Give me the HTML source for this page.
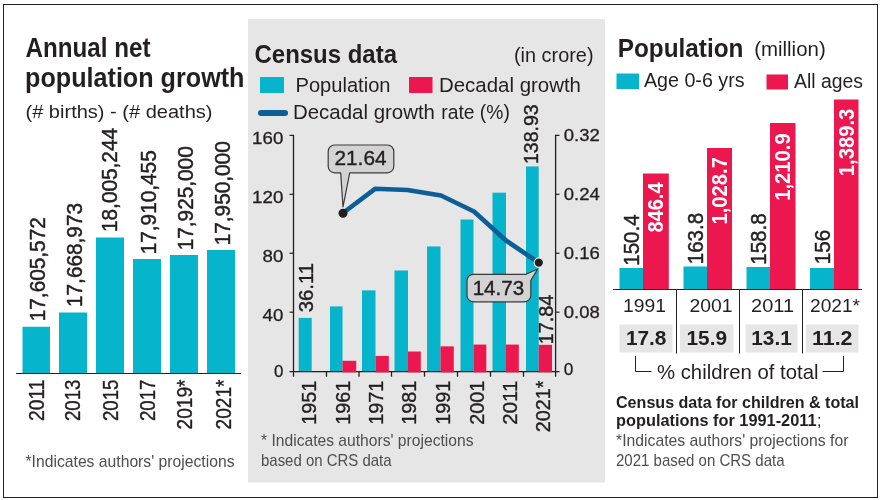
<!DOCTYPE html>
<html lang="en">
<head>
<meta charset="utf-8">
<title>Population charts</title>
<style>
html,body{margin:0;padding:0;background:#fff;}
body{width:880px;height:500px;overflow:hidden;}
svg{display:block;font-family:"Liberation Sans","DejaVu Sans",sans-serif;fill:#231f20;}
</style>
</head>
<body>
<svg width="880" height="500" viewBox="0 0 880 500">
<rect x="0" y="0" width="880" height="500" fill="#ffffff"/>
<rect x="3.5" y="4.5" width="874" height="493" fill="#fff" stroke="#231f20" stroke-width="1"/>
<rect x="248" y="19" width="357" height="463.5" fill="#e6e6e6"/>
<text font-size="27.5" font-weight="bold" textLength="125" lengthAdjust="spacingAndGlyphs" x="25.5" y="57">Annual net</text>
<text font-size="27.5" font-weight="bold" textLength="219.5" lengthAdjust="spacingAndGlyphs" x="25" y="86.5">population growth</text>
<text font-size="19" textLength="187" lengthAdjust="spacingAndGlyphs" x="25.5" y="118.4">(# births) - (# deaths)</text>
<rect x="22.5" y="326.75" width="27.5" height="46.25" fill="#06b4cb"/>
<text font-size="21.5" textLength="104" lengthAdjust="spacingAndGlyphs" stroke="#231f20" stroke-width="0.45" transform="translate(44.95 321.25) rotate(-90)">17,605,572</text>
<text font-size="21.5" text-anchor="end" textLength="41.5" lengthAdjust="spacingAndGlyphs" stroke="#231f20" stroke-width="0.35" transform="translate(43.9 379.5) rotate(-90)">2011</text>
<rect x="59" y="312.5" width="28" height="60.5" fill="#06b4cb"/>
<text font-size="21.5" textLength="104" lengthAdjust="spacingAndGlyphs" stroke="#231f20" stroke-width="0.45" transform="translate(81.7 307.0) rotate(-90)">17,668,973</text>
<text font-size="21.5" text-anchor="end" textLength="41.5" lengthAdjust="spacingAndGlyphs" stroke="#231f20" stroke-width="0.35" transform="translate(80.4 379.5) rotate(-90)">2013</text>
<rect x="96" y="237.5" width="28" height="135.5" fill="#06b4cb"/>
<text font-size="21.5" textLength="104" lengthAdjust="spacingAndGlyphs" stroke="#231f20" stroke-width="0.45" transform="translate(117.2 232.0) rotate(-90)">18,005,244</text>
<text font-size="21.5" text-anchor="end" textLength="41.5" lengthAdjust="spacingAndGlyphs" stroke="#231f20" stroke-width="0.35" transform="translate(118.1 379.5) rotate(-90)">2015</text>
<rect x="133" y="259" width="28" height="114" fill="#06b4cb"/>
<text font-size="21.5" textLength="104" lengthAdjust="spacingAndGlyphs" stroke="#231f20" stroke-width="0.45" transform="translate(155.7 254.3) rotate(-90)">17,910,455</text>
<text font-size="21.5" text-anchor="end" textLength="41.5" lengthAdjust="spacingAndGlyphs" stroke="#231f20" stroke-width="0.35" transform="translate(154.9 379.5) rotate(-90)">2017</text>
<rect x="170" y="255" width="28" height="118" fill="#06b4cb"/>
<text font-size="21.5" textLength="104" lengthAdjust="spacingAndGlyphs" stroke="#231f20" stroke-width="0.45" transform="translate(192.7 250.3) rotate(-90)">17,925,000</text>
<text font-size="21.5" text-anchor="end" textLength="50" lengthAdjust="spacingAndGlyphs" stroke="#231f20" stroke-width="0.35" transform="translate(192.3 379.5) rotate(-90)">2019*</text>
<rect x="207" y="250" width="28" height="123" fill="#06b4cb"/>
<text font-size="21.5" textLength="104" lengthAdjust="spacingAndGlyphs" stroke="#231f20" stroke-width="0.45" transform="translate(229.7 245.3) rotate(-90)">17,950,000</text>
<text font-size="21.5" text-anchor="end" textLength="50" lengthAdjust="spacingAndGlyphs" stroke="#231f20" stroke-width="0.35" transform="translate(231.3 379.5) rotate(-90)">2021*</text>
<line x1="16" y1="373.5" x2="241" y2="373.5" stroke="#231f20" stroke-width="1"/>
<text font-size="17" textLength="209" lengthAdjust="spacingAndGlyphs" fill="#4e4e4e" x="25.5" y="466.7">*Indicates authors' projections</text>
<text font-size="25.5" font-weight="bold" textLength="142.5" lengthAdjust="spacingAndGlyphs" x="254.5" y="62.5">Census data</text>
<text font-size="19.5" textLength="79.5" lengthAdjust="spacingAndGlyphs" x="514" y="62">(in crore)</text>
<rect x="260" y="77" width="24" height="16" fill="#06b4cb"/>
<text font-size="20.5" textLength="95" lengthAdjust="spacingAndGlyphs" x="295.5" y="92">Population</text>
<rect x="409" y="77" width="23.5" height="16" fill="#ec174f"/>
<text font-size="20.5" textLength="142" lengthAdjust="spacingAndGlyphs" x="439" y="92">Decadal growth</text>
<line x1="261" y1="113" x2="285" y2="113" stroke="#0b5e96" stroke-width="6" stroke-linecap="round"/>
<text font-size="20.5" textLength="142" lengthAdjust="spacingAndGlyphs" x="293" y="118.5">Decadal growth</text>
<text font-size="20.5" textLength="68.5" lengthAdjust="spacingAndGlyphs" x="441.3" y="118.5">rate (%)</text>
<rect x="298.7" y="317.9" width="13.0" height="53.7" fill="#06b4cb"/>
<rect x="330" y="306.42" width="12.5" height="65.18" fill="#06b4cb"/>
<rect x="362" y="290.37" width="13.5" height="81.23" fill="#06b4cb"/>
<rect x="394.5" y="270.48" width="13.5" height="101.12" fill="#06b4cb"/>
<rect x="427" y="246.46" width="13.5" height="125.14" fill="#06b4cb"/>
<rect x="460.5" y="219.5" width="13.0" height="152.1" fill="#06b4cb"/>
<rect x="492.5" y="192.69" width="13.5" height="178.91" fill="#06b4cb"/>
<rect x="526" y="166.42" width="12.7" height="205.18" fill="#06b4cb"/>
<line x1="293.5" y1="134.8" x2="293.5" y2="376.7" stroke="#231f20" stroke-width="1.3"/>
<line x1="555.6" y1="134.8" x2="555.6" y2="376.7" stroke="#231f20" stroke-width="1.3"/>
<line x1="289.5" y1="371.6" x2="559.5" y2="371.6" stroke="#231f20" stroke-width="1.3"/>
<line x1="289.5" y1="135.38" x2="293.5" y2="135.38" stroke="#231f20" stroke-width="1.2"/>
<text font-size="17" text-anchor="end" textLength="31.2" lengthAdjust="spacingAndGlyphs" stroke="#231f20" stroke-width="0.3" x="283.3" y="143.98">160</text>
<line x1="289.5" y1="194.31" x2="293.5" y2="194.31" stroke="#231f20" stroke-width="1.2"/>
<text font-size="17" text-anchor="end" textLength="31.2" lengthAdjust="spacingAndGlyphs" stroke="#231f20" stroke-width="0.3" x="283.3" y="202.91">120</text>
<line x1="289.5" y1="253.24" x2="293.5" y2="253.24" stroke="#231f20" stroke-width="1.2"/>
<text font-size="17" text-anchor="end" textLength="20.8" lengthAdjust="spacingAndGlyphs" stroke="#231f20" stroke-width="0.3" x="283.3" y="261.84000000000003">80</text>
<line x1="289.5" y1="312.17" x2="293.5" y2="312.17" stroke="#231f20" stroke-width="1.2"/>
<text font-size="17" text-anchor="end" textLength="20.8" lengthAdjust="spacingAndGlyphs" stroke="#231f20" stroke-width="0.3" x="283.3" y="320.77000000000004">40</text>
<text font-size="17" text-anchor="end" textLength="9.4" lengthAdjust="spacingAndGlyphs" stroke="#231f20" stroke-width="0.3" x="283.3" y="377.4">0</text>
<line x1="555.5" y1="135.38" x2="559.5" y2="135.38" stroke="#231f20" stroke-width="1.2"/>
<text font-size="17" textLength="36" lengthAdjust="spacingAndGlyphs" stroke="#231f20" stroke-width="0.3" x="563.8" y="141.28">0.32</text>
<line x1="555.5" y1="194.31" x2="559.5" y2="194.31" stroke="#231f20" stroke-width="1.2"/>
<text font-size="17" textLength="36" lengthAdjust="spacingAndGlyphs" stroke="#231f20" stroke-width="0.3" x="563.8" y="200.21">0.24</text>
<line x1="555.5" y1="253.24" x2="559.5" y2="253.24" stroke="#231f20" stroke-width="1.2"/>
<text font-size="17" textLength="36" lengthAdjust="spacingAndGlyphs" stroke="#231f20" stroke-width="0.3" x="563.8" y="259.14">0.16</text>
<line x1="555.5" y1="312.17" x2="559.5" y2="312.17" stroke="#231f20" stroke-width="1.2"/>
<text font-size="17" textLength="36" lengthAdjust="spacingAndGlyphs" stroke="#231f20" stroke-width="0.3" x="563.8" y="318.07">0.08</text>
<text font-size="17" textLength="9.6" lengthAdjust="spacingAndGlyphs" stroke="#231f20" stroke-width="0.3" x="563.8" y="374.5">0</text>
<line x1="326.5" y1="371.6" x2="326.5" y2="376.7" stroke="#231f20" stroke-width="1.3"/>
<line x1="359" y1="371.6" x2="359" y2="376.7" stroke="#231f20" stroke-width="1.3"/>
<line x1="391.5" y1="371.6" x2="391.5" y2="376.7" stroke="#231f20" stroke-width="1.3"/>
<line x1="424.5" y1="371.6" x2="424.5" y2="376.7" stroke="#231f20" stroke-width="1.3"/>
<line x1="457.5" y1="371.6" x2="457.5" y2="376.7" stroke="#231f20" stroke-width="1.3"/>
<line x1="490.5" y1="371.6" x2="490.5" y2="376.7" stroke="#231f20" stroke-width="1.3"/>
<line x1="523.5" y1="371.6" x2="523.5" y2="376.7" stroke="#231f20" stroke-width="1.3"/>
<rect x="342.5" y="360.79" width="13.7" height="11.61" fill="#ec174f"/>
<rect x="375.5" y="355.93" width="13.3" height="16.47" fill="#ec174f"/>
<rect x="408" y="351.51" width="12.8" height="20.89" fill="#ec174f"/>
<rect x="440.5" y="346.35" width="13.3" height="26.05" fill="#ec174f"/>
<rect x="473.5" y="344.58" width="12.8" height="27.82" fill="#ec174f"/>
<rect x="506" y="344.58" width="12.8" height="27.82" fill="#ec174f"/>
<rect x="538.7" y="344.82" width="13.3" height="27.58" fill="#ec174f"/>
<polyline points="343,213 375,188.8 407.5,190 441,195.5 474,211.5 506,240.5 538.5,262.5" fill="none" stroke="#0b5e96" stroke-width="4.6" stroke-linejoin="round" stroke-linecap="round"/>
<path d="M334.6 145 H387.4 a6.4 6.4 0 0 1 6.4 6.4 V166.4 a6.4 6.4 0 0 1 -6.4 6.4 H349.7 L343 207 L340.7 172.8 H334.6 a6.4 6.4 0 0 1 -6.4 -6.4 V151.4 a6.4 6.4 0 0 1 6.4 -6.4 Z" fill="#d3d3d3" stroke="#3a3a3a" stroke-width="1.2" stroke-linejoin="round"/>
<text font-size="20.5" text-anchor="middle" textLength="52" lengthAdjust="spacingAndGlyphs" stroke="#231f20" stroke-width="0.4" x="360.5" y="165.4">21.64</text>
<circle cx="343" cy="213.3" r="4.5" fill="#231f20"/>
<path d="M473.4 274.3 H526 L537.6 269 L530.8 280.5 V295.4 a6.4 6.4 0 0 1 -6.4 6.4 H473.4 a6.4 6.4 0 0 1 -6.4 -6.4 V280.7 a6.4 6.4 0 0 1 6.4 -6.4 Z" fill="#d3d3d3" stroke="#3a3a3a" stroke-width="1.2" stroke-linejoin="round"/>
<text font-size="20.5" text-anchor="middle" textLength="51.5" lengthAdjust="spacingAndGlyphs" stroke="#231f20" stroke-width="0.4" x="498.4" y="294.7">14.73</text>
<circle cx="538.8" cy="262.6" r="4.7" fill="#231f20" stroke="#f2f2f2" stroke-width="1.1"/>
<text font-size="20.5" textLength="49.3" lengthAdjust="spacingAndGlyphs" stroke="#231f20" stroke-width="0.4" transform="translate(313 312.3) rotate(-90)">36.11</text>
<text font-size="20.5" textLength="59.7" lengthAdjust="spacingAndGlyphs" stroke="#231f20" stroke-width="0.4" transform="translate(538 164) rotate(-90)">138.93</text>
<text font-size="20.5" textLength="49.7" lengthAdjust="spacingAndGlyphs" stroke="#231f20" stroke-width="0.4" transform="translate(552.5 344.3) rotate(-90)">17.84</text>
<text font-size="20.4" text-anchor="end" textLength="44" lengthAdjust="spacingAndGlyphs" stroke="#231f20" stroke-width="0.35" transform="translate(315.8 380.7) rotate(-90)">1951</text>
<text font-size="20.4" text-anchor="end" textLength="44" lengthAdjust="spacingAndGlyphs" stroke="#231f20" stroke-width="0.35" transform="translate(349.8 380.7) rotate(-90)">1961</text>
<text font-size="20.4" text-anchor="end" textLength="44" lengthAdjust="spacingAndGlyphs" stroke="#231f20" stroke-width="0.35" transform="translate(382.8 380.7) rotate(-90)">1971</text>
<text font-size="20.4" text-anchor="end" textLength="44" lengthAdjust="spacingAndGlyphs" stroke="#231f20" stroke-width="0.35" transform="translate(416.3 380.7) rotate(-90)">1981</text>
<text font-size="20.4" text-anchor="end" textLength="44" lengthAdjust="spacingAndGlyphs" stroke="#231f20" stroke-width="0.35" transform="translate(449.8 380.7) rotate(-90)">1991</text>
<text font-size="20.4" text-anchor="end" textLength="44" lengthAdjust="spacingAndGlyphs" stroke="#231f20" stroke-width="0.35" transform="translate(483.8 380.7) rotate(-90)">2001</text>
<text font-size="20.4" text-anchor="end" textLength="44" lengthAdjust="spacingAndGlyphs" stroke="#231f20" stroke-width="0.35" transform="translate(516.5 380.7) rotate(-90)">2011</text>
<text font-size="20.4" text-anchor="end" textLength="51.5" lengthAdjust="spacingAndGlyphs" stroke="#231f20" stroke-width="0.35" transform="translate(550 380.7) rotate(-90)">2021*</text>
<text font-size="17" textLength="212.5" lengthAdjust="spacingAndGlyphs" fill="#4e4e4e" x="261" y="446.2">* Indicates authors' projections</text>
<text font-size="17" textLength="130.5" lengthAdjust="spacingAndGlyphs" fill="#4e4e4e" x="261" y="465.7">based on CRS data</text>
<text font-size="26.5" font-weight="bold" textLength="125.7" lengthAdjust="spacingAndGlyphs" x="617.7" y="56.5">Population</text>
<text font-size="20" textLength="71.5" lengthAdjust="spacingAndGlyphs" x="754.2" y="56.2">(million)</text>
<rect x="616.5" y="73.5" width="22.5" height="15.5" fill="#06b4cb"/>
<text font-size="20" textLength="100.5" lengthAdjust="spacingAndGlyphs" x="644" y="86.9">Age 0-6 yrs</text>
<rect x="766.5" y="74.5" width="21.5" height="15.0" fill="#ec174f"/>
<text font-size="19.5" textLength="69" lengthAdjust="spacingAndGlyphs" x="794" y="87.6">All ages</text>
<rect x="619.5" y="268" width="23.5" height="21" fill="#06b4cb"/>
<rect x="643" y="173.5" width="25.8" height="115.5" fill="#ec174f"/>
<text font-size="21.5" textLength="51.3" lengthAdjust="spacingAndGlyphs" stroke="#231f20" stroke-width="0.45" transform="translate(639.35 265.7) rotate(-90)">150.4</text>
<text font-size="22" font-weight="bold" text-anchor="end" textLength="50" lengthAdjust="spacingAndGlyphs" fill="#fff" transform="translate(663.4 182.5) rotate(-90)">846.4</text>
<rect x="619.5" y="324.5" width="53.0" height="28.0" fill="#e6e6e6"/>
<text font-size="19.5" font-weight="bold" text-anchor="middle" textLength="40.5" lengthAdjust="spacingAndGlyphs" x="646.2" y="344.6">17.8</text>
<text font-size="17.5" text-anchor="middle" textLength="43" lengthAdjust="spacingAndGlyphs" x="644.4" y="311.8">1991</text>
<rect x="683.5" y="266.5" width="23.5" height="22.5" fill="#06b4cb"/>
<rect x="707" y="148" width="25" height="141" fill="#ec174f"/>
<text font-size="21.5" textLength="51.3" lengthAdjust="spacingAndGlyphs" stroke="#231f20" stroke-width="0.45" transform="translate(703.35 264.2) rotate(-90)">163.8</text>
<text font-size="22" font-weight="bold" text-anchor="end" textLength="67.5" lengthAdjust="spacingAndGlyphs" fill="#fff" transform="translate(727.0 157) rotate(-90)">1,028.7</text>
<rect x="680" y="324.5" width="53.5" height="28.0" fill="#e6e6e6"/>
<text font-size="19.5" font-weight="bold" text-anchor="middle" textLength="40.5" lengthAdjust="spacingAndGlyphs" x="706.75" y="344.6">15.9</text>
<text font-size="17.5" text-anchor="middle" textLength="43" lengthAdjust="spacingAndGlyphs" x="711.1" y="311.8">2001</text>
<rect x="746.5" y="267" width="23.5" height="22" fill="#06b4cb"/>
<rect x="770" y="123" width="25.5" height="166" fill="#ec174f"/>
<text font-size="21.5" textLength="51.3" lengthAdjust="spacingAndGlyphs" stroke="#231f20" stroke-width="0.45" transform="translate(766.35 264.7) rotate(-90)">158.8</text>
<text font-size="22" font-weight="bold" text-anchor="end" textLength="67.5" lengthAdjust="spacingAndGlyphs" fill="#fff" transform="translate(790.25 133.3) rotate(-90)">1,210.9</text>
<rect x="745.5" y="324.5" width="52.0" height="28.0" fill="#e6e6e6"/>
<text font-size="19.5" font-weight="bold" text-anchor="middle" textLength="40.5" lengthAdjust="spacingAndGlyphs" x="771.5" y="344.6">13.1</text>
<text font-size="17.5" text-anchor="middle" textLength="43" lengthAdjust="spacingAndGlyphs" x="772.6" y="311.8">2011</text>
<rect x="810" y="268" width="24" height="21" fill="#06b4cb"/>
<rect x="834" y="99.5" width="24.5" height="189.5" fill="#ec174f"/>
<text font-size="21.5" textLength="34.5" lengthAdjust="spacingAndGlyphs" stroke="#231f20" stroke-width="0.45" transform="translate(830.1 264.2) rotate(-90)">156</text>
<text font-size="22" font-weight="bold" text-anchor="end" textLength="67.5" lengthAdjust="spacingAndGlyphs" fill="#fff" transform="translate(853.75 108.7) rotate(-90)">1,389.3</text>
<rect x="806" y="324.5" width="52.5" height="28.0" fill="#e6e6e6"/>
<text font-size="19.5" font-weight="bold" text-anchor="middle" textLength="40.5" lengthAdjust="spacingAndGlyphs" x="832.25" y="344.6">11.2</text>
<text font-size="17.5" textLength="50" lengthAdjust="spacingAndGlyphs" x="810" y="311.8">2021*</text>
<line x1="613" y1="289.5" x2="862" y2="289.5" stroke="#231f20" stroke-width="1"/>
<line x1="676.5" y1="289" x2="676.5" y2="353.5" stroke="#231f20" stroke-width="1"/>
<line x1="739.5" y1="289" x2="739.5" y2="353.5" stroke="#231f20" stroke-width="1"/>
<line x1="802.5" y1="289" x2="802.5" y2="353.5" stroke="#231f20" stroke-width="1"/>
<path d="M635.5 356 V371.5 H651.5" fill="none" stroke="#231f20" stroke-width="1"/>
<path d="M822.5 371.5 H843.5 V356" fill="none" stroke="#231f20" stroke-width="1"/>
<text font-size="21" textLength="161.5" lengthAdjust="spacingAndGlyphs" x="657" y="379.2">% children of total</text>
<text font-size="16" font-weight="bold" textLength="243" lengthAdjust="spacingAndGlyphs" x="616" y="407.5">Census data for children &amp; total</text>
<text font-size="16" font-weight="bold" textLength="200.5" lengthAdjust="spacingAndGlyphs" x="616" y="426.3">populations for 1991-2011</text>
<text font-size="16" x="817" y="426.3">;</text>
<text font-size="17" textLength="232.5" lengthAdjust="spacingAndGlyphs" fill="#4e4e4e" x="616" y="446.1">*Indicates authors' projections for</text>
<text font-size="17" textLength="168.5" lengthAdjust="spacingAndGlyphs" fill="#4e4e4e" x="616" y="465.9">2021 based on CRS data</text>
</svg>
</body>
</html>
